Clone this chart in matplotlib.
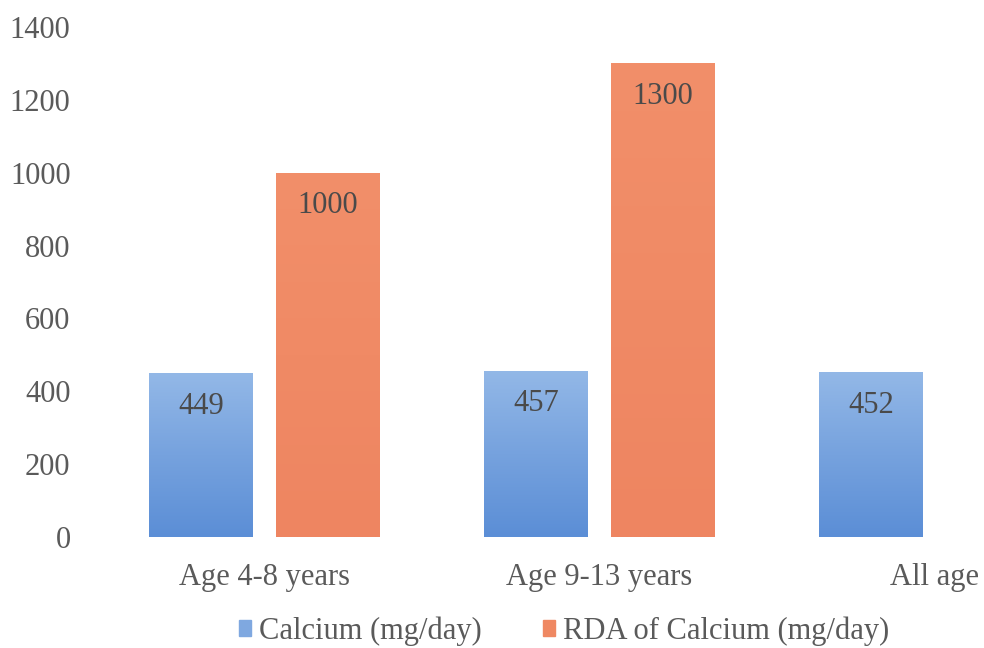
import numpy as np
import matplotlib
matplotlib.use("Agg")
import matplotlib.pyplot as plt
from matplotlib.colors import LinearSegmentedColormap

categories = ["Age 4-8 years", "Age 9-13 years", "All age"]
calcium = [449, 457, 452]
rda = [1000, 1300, None]
series_names = ["Calcium (mg/day)", "RDA of Calcium (mg/day)"]
yticks = [0, 200, 400, 600, 800, 1000, 1200, 1400]

plt.rcParams["font.family"] = ["Liberation Serif", "DejaVu Serif"]

W, H = 984, 648
fig = plt.figure(figsize=(W / 100, H / 100), dpi=100)
# plot area runs past the right edge of the figure
ax = fig.add_axes([97 / W, 1 - 537 / H, (1102 - 97) / W, (537 - 27) / H])

x = np.arange(len(categories))
bw = 0.31
off = 0.19
FS = 22

# colormaps run from the bar base (0) to the bar top (1)
blue_cmap = LinearSegmentedColormap.from_list("blue", ["#5B8ED6", "#76A2DE", "#93B8E7"])
orange_cmap = LinearSegmentedColormap.from_list("orange", ["#EE8561", "#F08A65", "#F28F6A"])

def shaded_bar(xc, h, cmap):
    bar = ax.bar(xc, h, bw, color=cmap(0.5), linewidth=0, zorder=2)[0]
    grad = np.linspace(0, 1, 256).reshape(-1, 1)
    im = ax.imshow(grad, extent=(xc - bw / 2, xc + bw / 2, 0, h), origin="lower",
                   cmap=cmap, aspect="auto", zorder=3, interpolation="bilinear")
    im.set_clip_path(bar)
    return bar

for i in range(len(categories)):
    if calcium[i] is not None:
        shaded_bar(x[i] - off, calcium[i], blue_cmap)
        ax.text(x[i] - off, calcium[i] - 90, f"{calcium[i]}", ha="center", va="center",
                fontsize=FS, color="#4a4a4a", zorder=5)
    if rda[i] is not None:
        shaded_bar(x[i] + off, rda[i], orange_cmap)
        ax.text(x[i] + off, rda[i] - 90, f"{rda[i]}", ha="center", va="center",
                fontsize=FS, color="#4a4a4a", zorder=5)

ax.set_xlim(-0.5, len(categories) - 0.5)
ax.set_ylim(0, 1400)
ax.set_yticks(yticks)
ax.set_yticklabels([str(v) for v in yticks])
ax.set_xticks(x)
ax.set_xticklabels(categories)
ax.tick_params(axis="both", length=0, labelsize=FS, colors="#5a5a5a")
ax.tick_params(axis="y", pad=19)
ax.tick_params(axis="x", pad=19)
for s in ax.spines.values():
    s.set_visible(False)

handles = [plt.Rectangle((0, 0), 1, 1, color="#7FA8E0"),
           plt.Rectangle((0, 0), 1, 1, color="#EF8862")]
fig.legend(handles, series_names, loc="center", bbox_to_anchor=(564 / W, 1 - 631 / H),
           ncol=2, frameon=False, fontsize=FS, labelcolor="#5a5a5a",
           handlelength=0.4, handleheight=0.4, handletextpad=0.25, columnspacing=2.0)

fig.savefig("out.png", dpi=100)
